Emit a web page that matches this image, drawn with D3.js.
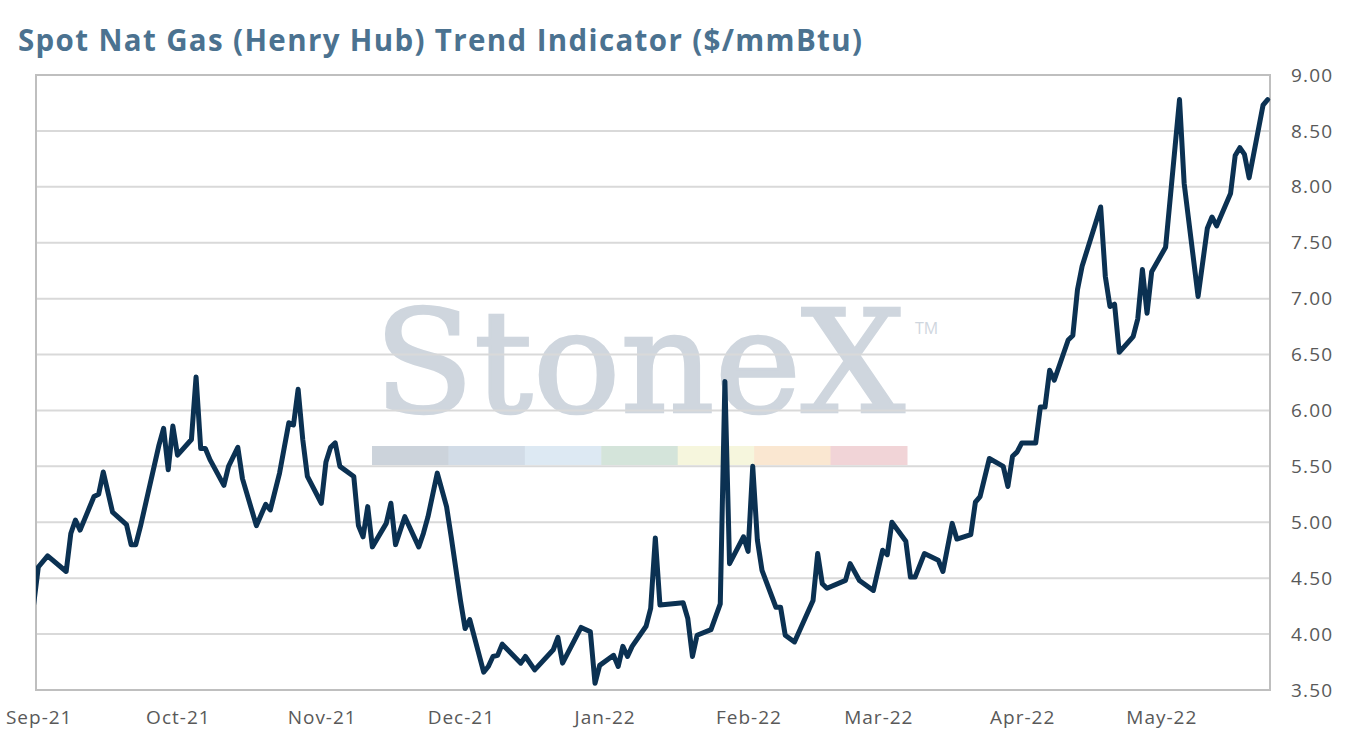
<!DOCTYPE html>
<html>
<head>
<meta charset="utf-8">
<script src="https://cdn.jsdelivr.net/npm/d3@7"></script>
<style>
  body { margin: 0; background: #fff; }
  svg { display: block; }
</style>
</head>
<body>
<script>
const title = "Spot Nat Gas (Henry Hub) Trend Indicator ($/mmBtu)";

const dates = [
  "2021-09-01","2021-09-02","2021-09-04","2021-09-08","2021-09-09","2021-09-10","2021-09-11","2021-09-14",
  "2021-09-15","2021-09-16","2021-09-18","2021-09-21","2021-09-22","2021-09-23","2021-09-24","2021-09-28",
  "2021-09-29","2021-09-30","2021-10-01","2021-10-02","2021-10-05","2021-10-06","2021-10-07","2021-10-08",
  "2021-10-09","2021-10-12","2021-10-13","2021-10-15","2021-10-16","2021-10-19","2021-10-21","2021-10-22",
  "2021-10-24","2021-10-26","2021-10-27","2021-10-28","2021-10-29","2021-10-30","2021-11-02","2021-11-03",
  "2021-11-04","2021-11-05","2021-11-06","2021-11-09","2021-11-10","2021-11-11","2021-11-12","2021-11-13",
  "2021-11-16","2021-11-17","2021-11-18","2021-11-20","2021-11-23","2021-11-24","2021-11-25","2021-11-27",
  "2021-11-29","2021-11-30","2021-12-02","2021-12-03","2021-12-04","2021-12-07","2021-12-08","2021-12-09",
  "2021-12-10","2021-12-11","2021-12-15","2021-12-16","2021-12-18","2021-12-22","2021-12-23","2021-12-24",
  "2021-12-28","2021-12-30","2021-12-31","2022-01-01","2022-01-04","2022-01-05","2022-01-06","2022-01-07",
  "2022-01-08","2022-01-11","2022-01-12","2022-01-13","2022-01-14","2022-01-19","2022-01-20","2022-01-21",
  "2022-01-22","2022-01-25","2022-01-27","2022-01-28","2022-01-29","2022-02-01","2022-02-02","2022-02-03",
  "2022-02-04","2022-02-05","2022-02-08","2022-02-09","2022-02-10","2022-02-12","2022-02-16","2022-02-17",
  "2022-02-18","2022-02-19","2022-02-23","2022-02-24","2022-02-26","2022-03-01","2022-03-03","2022-03-04",
  "2022-03-05","2022-03-08","2022-03-09","2022-03-10","2022-03-12","2022-03-15","2022-03-16","2022-03-18",
  "2022-03-19","2022-03-22","2022-03-23","2022-03-24","2022-03-26","2022-03-29","2022-03-30","2022-03-31",
  "2022-04-01","2022-04-02","2022-04-05","2022-04-06","2022-04-07","2022-04-08","2022-04-09","2022-04-12",
  "2022-04-13","2022-04-14","2022-04-15","2022-04-19","2022-04-20","2022-04-21","2022-04-22","2022-04-23",
  "2022-04-26","2022-04-27","2022-04-28","2022-04-29","2022-04-30","2022-05-03","2022-05-06","2022-05-07",
  "2022-05-10","2022-05-12","2022-05-13","2022-05-14","2022-05-17","2022-05-18","2022-05-19","2022-05-20",
  "2022-05-21","2022-05-24","2022-05-25"
];

const prices = [
  4.27,4.60,4.70,4.56,4.90,5.02,4.93,5.23,
  5.25,5.45,5.09,4.98,4.80,4.80,4.96,5.69,
  5.84,5.47,5.86,5.60,5.74,6.30,5.66,5.66,
  5.56,5.33,5.50,5.67,5.39,4.97,5.16,5.11,
  5.44,5.89,5.87,6.19,5.74,5.41,5.17,5.54,
  5.67,5.71,5.50,5.41,4.97,4.87,5.14,4.78,
  4.99,5.17,4.80,5.05,4.78,4.90,5.05,5.44,
  5.14,4.87,4.30,4.05,4.13,3.66,3.71,3.80,
  3.81,3.91,3.74,3.80,3.68,3.86,3.97,3.74,
  4.06,4.02,3.56,3.72,3.81,3.71,3.89,3.80,
  3.89,4.07,4.23,4.86,4.26,4.28,4.14,3.80,
  3.99,4.04,4.27,6.26,4.63,4.87,4.74,5.50,
  4.84,4.57,4.24,4.24,3.99,3.93,4.30,4.72,
  4.45,4.41,4.48,4.63,4.48,4.39,4.75,4.71,
  5.00,4.83,4.51,4.51,4.72,4.66,4.56,4.99,
  4.85,4.89,5.18,5.23,5.57,5.50,5.32,5.59,
  5.63,5.71,5.71,6.03,6.03,6.36,6.27,6.63,
  6.67,7.08,7.29,7.82,7.20,6.93,6.95,6.52,
  6.66,6.82,7.26,6.87,7.24,7.46,8.78,8.03,
  7.02,7.63,7.73,7.65,7.94,8.28,8.35,8.29,
  8.08,8.73,8.78
];

const monthTicks = ["2021-09-01","2021-10-01","2021-11-01","2021-12-01","2022-01-01",
                    "2022-02-01","2022-03-01","2022-04-01","2022-05-01"];
const yTicks = [3.5, 4.0, 4.5, 5.0, 5.5, 6.0, 6.5, 7.0, 7.5, 8.0, 8.5, 9.0];

const watermarkColors = ["#ccd3db","#d2dce7","#dde9f3","#d4e4da","#f6f6dd","#fae7d1","#f1d4d7"];

const width = 1351;
const height = 750;
const plot = {left: 36, top: 75, right: 1270, bottom: 690};
const labelFont = "'Open Sans', 'Noto Sans', sans-serif";

const parse = d3.timeParse("%Y-%m-%d");
const data = dates.map((d, i) => ({date: parse(d), value: prices[i]}));

const svg = d3.select("body").append("svg")
  .attr("width", width)
  .attr("height", height);

svg.append("text")
  .attr("x", 18)
  .attr("y", 51)
  .attr("textLength", 844)
  .attr("lengthAdjust", "spacing")
  .attr("fill", "#4b7290")
  .attr("font-family", labelFont)
  .attr("font-weight", "bold")
  .attr("font-size", "29.5px")
  .text(title);

const xscale = d3.scaleTime()
  .domain([parse("2021-09-01"), parse("2022-05-26")])
  .range([33.7, 1272.3]);

const yscale = d3.scaleLinear()
  .domain([3.5, 9])
  .range([plot.bottom, plot.top]);

// watermark behind the grid
const wm = svg.append("g");
wm.append("text")
  .attr("x", 374)
  .attr("y", 412)
  .attr("textLength", 531)
  .attr("lengthAdjust", "spacingAndGlyphs")
  .attr("fill", "#cfd6de")
  .attr("stroke", "#cfd6de")
  .attr("stroke-width", 2.5)
  .attr("font-family", "'DejaVu Serif', 'Liberation Serif', serif")
  .attr("font-size", "142px")
  .text("StoneX");
wm.append("text")
  .attr("x", 915)
  .attr("y", 334)
  .attr("fill", "#cfd6de")
  .attr("font-family", labelFont)
  .attr("font-size", "16px")
  .text("TM");
const segW = (907 - 372) / watermarkColors.length;
wm.selectAll("rect")
  .data(watermarkColors)
  .enter()
  .append("rect")
  .attr("x", (d, i) => 372 + i * segW)
  .attr("y", 446)
  .attr("width", segW + 0.5)
  .attr("height", 19)
  .attr("fill", d => d);

// gridlines
svg.append("g")
  .selectAll("line")
  .data(yTicks.filter(t => t > 3.5 && t < 9))
  .enter()
  .append("line")
  .attr("x1", plot.left)
  .attr("x2", plot.right)
  .attr("y1", d => yscale(d))
  .attr("y2", d => yscale(d))
  .attr("stroke", "#d9d9d9")
  .attr("stroke-width", 2);

// plot border
svg.append("rect")
  .attr("x", plot.left)
  .attr("y", plot.top)
  .attr("width", plot.right - plot.left)
  .attr("height", plot.bottom - plot.top)
  .attr("fill", "none")
  .attr("stroke", "#bfbfbf")
  .attr("stroke-width", 2);

svg.append("clipPath")
  .attr("id", "clip")
  .append("rect")
  .attr("x", plot.left)
  .attr("y", 0)
  .attr("width", plot.right - plot.left + 10)
  .attr("height", height);

const line = d3.line()
  .x(d => xscale(d.date))
  .y(d => yscale(d.value));

svg.append("path")
  .datum(data)
  .attr("clip-path", "url(#clip)")
  .attr("fill", "none")
  .attr("stroke", "#0b3152")
  .attr("stroke-width", 5)
  .attr("stroke-linejoin", "round")
  .attr("stroke-linecap", "round")
  .attr("d", line);

// axes
const xaxis = d3.axisBottom(xscale)
  .tickValues(monthTicks.map(parse))
  .tickFormat(d3.timeFormat("%b-%y"))
  .tickSize(0)
  .tickPadding(0);

const gx = svg.append("g")
  .attr("transform", `translate(0, ${plot.bottom})`)
  .call(xaxis);
gx.select(".domain").remove();
gx.selectAll("text")
  .attr("dx", 5)
  .attr("y", 34)
  .attr("dy", 0)
  .attr("fill", "#595959")
  .attr("font-family", labelFont)
  .attr("font-size", "19px")
  .attr("letter-spacing", "1px");

const yaxis = d3.axisRight(yscale)
  .tickValues(yTicks)
  .tickFormat(d3.format(".2f"))
  .tickSize(0)
  .tickPadding(21);

const gy = svg.append("g")
  .attr("transform", `translate(${plot.right}, 0)`)
  .call(yaxis);
gy.select(".domain").remove();
gy.selectAll("text")
  .attr("fill", "#595959")
  .attr("font-family", labelFont)
  .attr("font-size", "19px")
  .attr("letter-spacing", "1.2px");
</script>
</body>
</html>
